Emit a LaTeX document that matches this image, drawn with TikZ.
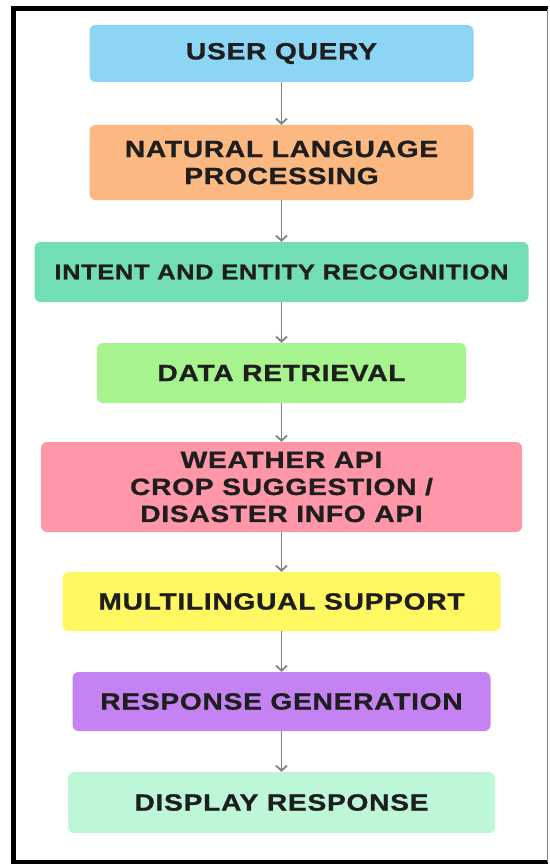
\documentclass[tikz,border=0pt]{standalone}
\usepackage{fontspec}
\newfontfamily\stagefont{Liberation Sans}[FakeStretch = 1.2, LetterSpace = 3, FakeBold = 1]
\usetikzlibrary{arrows.meta}
\definecolor{ink}{HTML}{1E1E1E}
\definecolor{arrowgrey}{HTML}{808080}
\definecolor{querycol}{HTML}{8DD5F5}
\definecolor{nlpcol}{HTML}{FBB880}
\definecolor{intentcol}{HTML}{73DDB5}
\definecolor{datacol}{HTML}{A7F48F}
\definecolor{apicol}{HTML}{FF97A9}
\definecolor{langcol}{HTML}{FFF862}
\definecolor{gencol}{HTML}{C582F2}
\definecolor{displaycol}{HTML}{BEF7D7}

\begin{document}
\begin{tikzpicture}[
        x = 1pt,
        y = -1pt,
        stage/.style = {
          rounded corners = 6pt,
          align = center,
          inner sep = 0pt,
          text = ink,
          font = \stagefont\bfseries\fontsize{23.5}{27}\selectfont,
        },
        flow/.style = {
          draw = arrowgrey,
          line width = 1.8pt,
          -{Straight Barb[length = 5pt, width = 11pt]},
        },
        ]
        \useasboundingbox (0,0) rectangle (549,864);
        \fill [white] (0,0) rectangle (549,864);
        \draw [line width = 5pt] (548,9) -- (13.5,9) -- (13.5,862) -- (548,862);
        \draw [gray, line width = 1.5pt] (547.5,9) -- (547.5,862);

        \node [stage, fill = querycol, minimum width = 384pt, minimum height = 57pt]
          (query) at (281.5,53.5) {USER QUERY};
        \node [stage, fill = nlpcol, minimum width = 384pt, minimum height = 75pt]
          (nlp) at (281.5,162.5) {NATURAL LANGUAGE\\PROCESSING};
        \node [stage, fill = intentcol, minimum width = 494pt, minimum height = 60pt,
          font = \stagefont\bfseries\fontsize{21.2}{26}\selectfont]
          (intent) at (281.5,272) {INTENT AND ENTITY RECOGNITION};
        \node [stage, fill = datacol, minimum width = 369pt, minimum height = 60pt]
          (data) at (281.5,373) {DATA RETRIEVAL};
        \node [stage, fill = apicol, minimum width = 481pt, minimum height = 90pt]
          (api) at (281.5,487) {WEATHER API\\CROP SUGGESTION /\\DISASTER INFO API};
        \node [stage, fill = langcol, minimum width = 438pt, minimum height = 59pt]
          (lang) at (281.5,601.5) {MULTILINGUAL SUPPORT};
        \node [stage, fill = gencol, minimum width = 418pt, minimum height = 59pt]
          (gen) at (281.5,701.5) {RESPONSE GENERATION};
        \node [stage, fill = displaycol, minimum width = 427pt, minimum height = 61pt]
          (display) at (281.5,802.5) {DISPLAY RESPONSE};

        \foreach \from/\to in {query/nlp, nlp/intent, intent/data, data/api,
            api/lang, lang/gen, gen/display}
          \draw [flow] (\from) -- (\to);
      \end{tikzpicture}
\end{document}
